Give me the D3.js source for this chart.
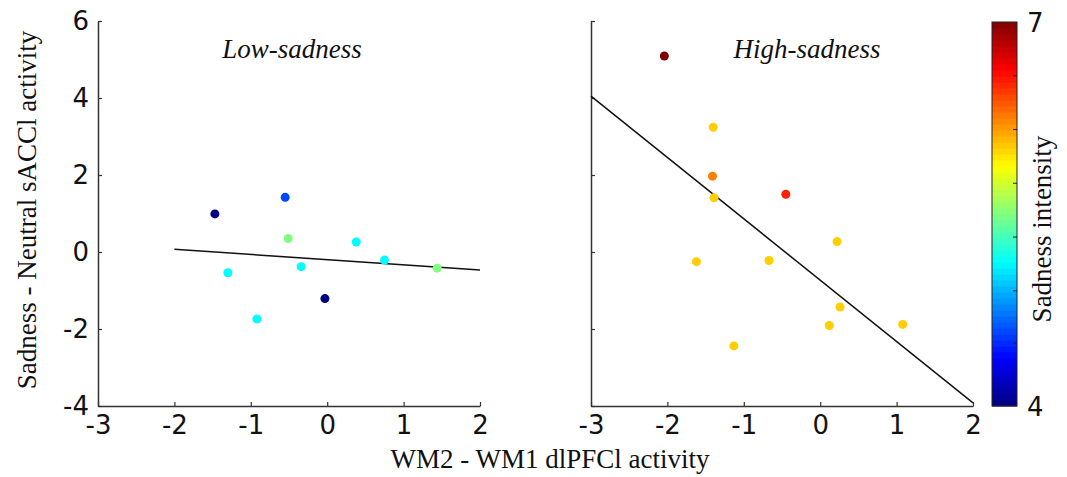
<!DOCTYPE html>
<html>
<head>
<meta charset="utf-8">
<script src="https://cdn.jsdelivr.net/npm/d3@7"></script>
<style>
  body { margin: 0; background: #fff; }
  .tick text { font-family: "DejaVu Sans", Verdana, sans-serif; font-size: 26px; fill: #111; }
  .lbl { font-family: "Liberation Serif", "Times New Roman", serif; font-size: 27px; fill: #111; }
</style>
</head>
<body>
<script>
// low-sadness group: WM2-WM1 dlPFC, sadness-neutral sACC, sadness intensity
const lowX = [-1.47, -0.55, -0.51, 0.38, 0.75, 1.44, -1.30, -0.34, -0.03, -0.92];
const lowY = [0.99, 1.42, 0.35, 0.26, -0.21, -0.42, -0.54, -0.38, -1.21, -1.74];
const lowS = [4.0, 4.58, 5.5, 5.12, 5.12, 5.5, 5.12, 5.12, 4.0, 5.12];
const lowFit = [[-2, 0.07], [2, -0.47]];

// high-sadness group
const highX = [-2.04, -1.40, -1.41, -1.39, -0.45, 0.22, -1.62, -0.67, 0.26, 0.12, 1.08, -1.13];
const highY = [5.09, 3.24, 1.97, 1.41, 1.50, 0.27, -0.25, -0.22, -1.43, -1.91, -1.88, -2.44];
const highS = [7.0, 6.02, 6.25, 6.02, 6.53, 6.02, 6.02, 6.02, 6.02, 6.02, 6.02, 6.02];
const highFit = [[-3, 4.05], [2, -3.92]];

const xTicks = [-3, -2, -1, 0, 1, 2];
const yTicks = [-4, -2, 0, 2, 4, 6];
const cbarTicks = [6.58, 6.16, 5.74, 5.32, 4.90, 4.49];

// matlab-style jet
function jet(t) {
  const c = v => Math.max(0, Math.min(1, v));
  const r = c(1.5 - Math.abs(4 * t - 3)), g = c(1.5 - Math.abs(4 * t - 2)), b = c(1.5 - Math.abs(4 * t - 1));
  return d3.rgb(r * 255, g * 255, b * 255).toString();
}
const sNorm = d3.scaleLinear().domain([4, 7]).range([0, 1]).clamp(true);
const color = s => jet(sNorm(s));
const fmt = d => String(d); // plain hyphen like matlab

const width = 1067, height = 477;
const svg = d3.select('body').append('svg').attr('width', width).attr('height', height);

const y = d3.scaleLinear().domain([-4, 6]).range([406, 21]);

function panel(x0, xs, ys, ss, fit, title, titleX, showLabels) {
  const x = d3.scaleLinear().domain([-3, 2]).range([x0, x0 + 382]);
  const g = svg.append('g');

  const xAxis = g.append('g').attr('transform', `translate(0,${y(-4)})`)
    .call(d3.axisBottom(x).tickValues(xTicks).tickSizeInner(-4).tickSizeOuter(0).tickPadding(10).tickFormat(fmt));
  xAxis.selectAll('.tick text').attr('dy', '0.7em');

  const yAxis = g.append('g').attr('transform', `translate(${x0},0)`)
    .call(d3.axisLeft(y).tickValues(yTicks).tickSizeInner(-4).tickSizeOuter(0).tickPadding(9)
      .tickFormat(showLabels ? fmt : ''));

  [xAxis, yAxis].forEach(a => {
    a.select('.domain').attr('stroke', '#333').attr('stroke-width', 1.5);
    a.selectAll('.tick line').attr('stroke', '#333').attr('stroke-width', 1.2);
  });

  g.append('path')
    .datum(fit)
    .attr('d', d3.line().x(d => x(d[0])).y(d => y(d[1])))
    .attr('fill', 'none').attr('stroke', '#111').attr('stroke-width', 1.5);

  g.selectAll('circle').data(xs.map((v, i) => ({ x: v, y: ys[i], s: ss[i] })))
    .enter().append('circle')
    .attr('cx', d => x(d.x)).attr('cy', d => y(d.y)).attr('r', 4.5)
    .attr('fill', d => color(d.s));

  g.append('text').attr('class', 'lbl').attr('x', titleX).attr('y', 58)
    .attr('text-anchor', 'middle').style('font-style', 'italic').text(title);
}

panel(98, lowX, lowY, lowS, lowFit, 'Low-sadness', 292, true);
panel(591, highX, highY, highS, highFit, 'High-sadness', 807, false);

// axis titles
svg.append('text').attr('class', 'lbl').attr('x', 550).attr('y', 468)
  .attr('text-anchor', 'middle').text('WM2 - WM1 dlPFCl activity');
svg.append('text').attr('class', 'lbl')
  .attr('transform', 'translate(36,210) rotate(-90)')
  .attr('text-anchor', 'middle').text('Sadness - Neutral sACCl activity');

// colorbar
const cb = d3.scaleLinear().domain([4, 7]).range([406, 22]);
const nBands = 64;
const bands = d3.range(nBands).map(i => 4 + (i + 0.5) * 3 / nBands);
const bandH = (cb(4) - cb(7)) / nBands;
const cbg = svg.append('g');
cbg.selectAll('rect.band').data(bands).enter().append('rect').attr('class', 'band')
  .attr('x', 992).attr('width', 25)
  .attr('y', d => cb(d) - bandH / 2).attr('height', bandH + 0.5)
  .attr('fill', d => color(d));
cbg.append('rect').attr('x', 992).attr('y', cb(7)).attr('width', 25).attr('height', cb(4) - cb(7))
  .attr('fill', 'none').attr('stroke', '#222').attr('stroke-width', 1);
cbg.selectAll('line.ct').data(cbarTicks).enter().append('line').attr('class', 'ct')
  .attr('x1', 1013).attr('x2', 1017).attr('y1', d => cb(d)).attr('y2', d => cb(d))
  .attr('stroke', '#222').attr('stroke-width', 1);
cbg.selectAll('text.cl').data([7, 4]).enter().append('text').attr('class', 'cl')
  .attr('x', 1027).attr('y', d => cb(d)).attr('dy', '0.4em')
  .style('font-family', '"DejaVu Sans", Verdana, sans-serif').style('font-size', '26px').attr('fill', '#111')
  .text(d => d);
svg.append('text').attr('class', 'lbl')
  .attr('transform', 'translate(1051,229) rotate(-90)')
  .attr('text-anchor', 'middle').text('Sadness intensity');
</script>
</body>
</html>
